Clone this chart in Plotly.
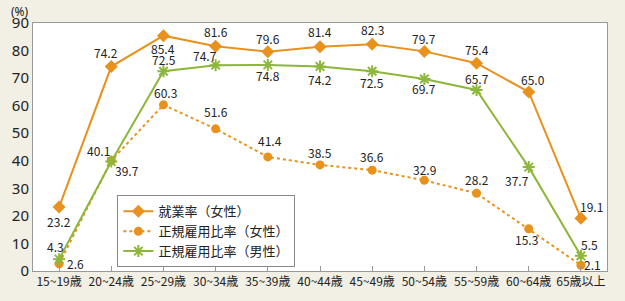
import plotly.graph_objects as go

categories = ["15~19歳", "20~24歳", "25~29歳", "30~34歳", "35~39歳", "40~44歳",
              "45~49歳", "50~54歳", "55~59歳", "60~64歳", "65歳以上"]
employment_female = [23.2, 74.2, 85.4, 81.6, 79.6, 81.4, 82.3, 79.7, 75.4, 65.0, 19.1]
regular_female = [2.6, 40.1, 60.3, 51.6, 41.4, 38.5, 36.6, 32.9, 28.2, 15.3, 2.1]
regular_male = [4.3, 39.7, 72.5, 74.7, 74.8, 74.2, 72.5, 69.7, 65.7, 37.7, 5.5]
y_ticks = [0, 10, 20, 30, 40, 50, 60, 70, 80, 90]

ORANGE = "#e8911c"
GREEN = "#8db73a"
FONT = "Noto Sans CJK JP"
x = list(range(len(categories)))

# label offsets in pixels (dx, dy downwards)
off_emp = [(0, 14), (-5, -14), (0, 13), (0, -15), (0, -13), (0, -15),
           (0, -15), (0, -13), (0, -14), (4, -12), (11, -12)]
off_regf = [(16, 0), (-13, -10), (2, -12), (0, -17), (2, -16), (0, -12),
            (0, -14), (0, -11), (0, -14), (-2, 11), (12, -1)]
off_regm = [(-4, -13), (16, 9), (1, -12), (-11, -10), (0, 11), (0, 13),
            (0, 11), (0, 10), (0, -11), (-12, 13), (9, -11)]

fig = go.Figure()
fig.add_trace(go.Scatter(
    x=x, y=employment_female, name="就業率（女性）", mode="lines+markers",
    line=dict(color=ORANGE, width=2), marker=dict(symbol="diamond", size=10, color=ORANGE),
    cliponaxis=False))
fig.add_trace(go.Scatter(
    x=x, y=regular_female, name="正規雇用比率（女性）", mode="lines+markers",
    line=dict(color=ORANGE, width=2, dash="dot"), marker=dict(symbol="circle", size=9, color=ORANGE),
    cliponaxis=False))
fig.add_trace(go.Scatter(
    x=x, y=regular_male, name="正規雇用比率（男性）", mode="lines+markers",
    line=dict(color=GREEN, width=2),
    marker=dict(symbol="asterisk-open", size=10, color=GREEN, line=dict(color=GREEN, width=2)),
    cliponaxis=False))

annotations = [dict(text="(%)", x=0, y=1, xref="paper", yref="paper", xshift=-13, yshift=22,
                    xanchor="center", yanchor="top", showarrow=False,
                    font=dict(family="Noto Sans", size=12, color="#222"))]
for vals, offs in ((employment_female, off_emp), (regular_female, off_regf), (regular_male, off_regm)):
    for i, (v, (dx, dy)) in enumerate(zip(vals, offs)):
        annotations.append(dict(text=f"{v:.1f}", x=i, y=v, xref="x", yref="y",
                                xshift=dx, yshift=-dy, xanchor="center", yanchor="middle",
                                showarrow=False,
                                font=dict(family=FONT, size=12, color="#222")))

fig.update_layout(
    width=625, height=301,
    margin=dict(l=33, r=18, t=22, b=26),
    paper_bgcolor="#f2efe4", plot_bgcolor="#ffffff",
    font=dict(family=FONT, color="#222"),
    showlegend=True,
    legend=dict(x=0.147, y=0.305, xanchor="left", yanchor="top",
                bgcolor="#ffffff", bordercolor="#888", borderwidth=1,
                font=dict(family=FONT, size=13, color="#222"),
                tracegroupgap=0, itemwidth=30),
    xaxis=dict(tickmode="array", tickvals=x, ticktext=categories, range=[-0.5, 10.5],
               showgrid=False, zeroline=False, showline=True, linecolor="#999", linewidth=1,
               mirror=True, ticks="inside", ticklen=5, tickcolor="#999",
               tickfont=dict(family=FONT, size=12, color="#222")),
    yaxis=dict(tickmode="array", tickvals=y_ticks, range=[0, 90],
               showgrid=False, zeroline=False, showline=True, linecolor="#999", linewidth=1,
               mirror=True, ticks="", tickfont=dict(family="Noto Sans", size=15, color="#222")),
    annotations=annotations,
)

fig.write_html("out.html")
